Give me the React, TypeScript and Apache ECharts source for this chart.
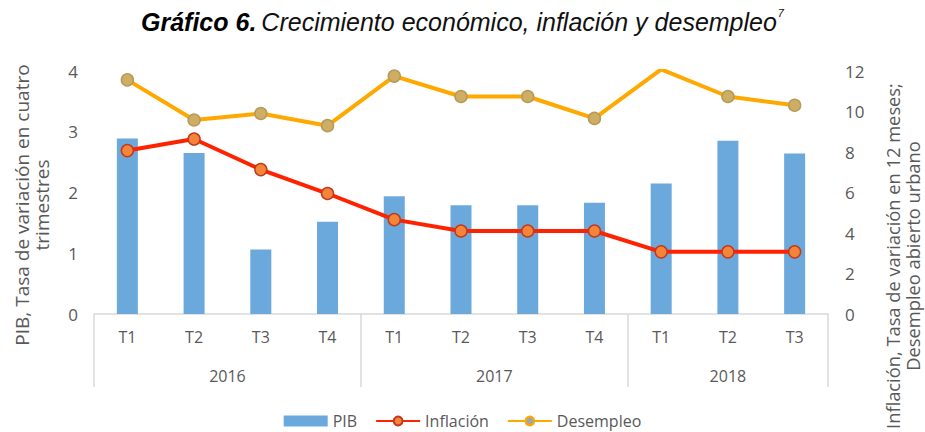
import React, { useEffect, useRef } from "react";
import * as echarts from "echarts";

const categories = ["T1", "T2", "T3", "T4", "T1", "T2", "T3", "T4", "T1", "T2", "T3"];
const yearLabels = ["2016", "2017", "2018"];
const yearSpans = [4, 4, 3];
const pib = [2.89, 2.65, 1.06, 1.52, 1.94, 1.79, 1.79, 1.83, 2.15, 2.85, 2.64];
const inflacion = [8.07, 8.64, 7.13, 5.95, 4.66, 4.1, 4.1, 4.1, 3.07, 3.07, 3.07];
const desempleo = [11.56, 9.58, 9.9, 9.3, 11.75, 10.74, 10.74, 9.66, 12.08, 10.74, 10.31];
const leftTicks = [0, 1, 2, 3, 4];
const rightTicks = [0, 2, 4, 6, 8, 10, 12];

const GRAY = "#595959";
const LINE_GRAY = "#d9d9d9";
const FONT = "'Open Sans', sans-serif";
const TITLE_FONT = "'Liberation Sans', Arial, sans-serif";

// half-step slots for the year (second-level) axis
const slotCount = categories.length * 2 + 1;
const yearSlots: string[] = new Array(slotCount).fill("");
const boundarySlots = new Set<number>([0]);
{
  let start = 0;
  yearLabels.forEach((y, k) => {
    yearSlots[start * 2 + yearSpans[k]] = y;
    start += yearSpans[k];
    boundarySlots.add(start * 2);
  });
}

export default function App() {
  const ref = useRef<HTMLDivElement>(null);
  useEffect(() => {
    if (!ref.current) return;
    const chart = echarts.init(ref.current, null, { renderer: "svg" });
    chart.setOption({
      animation: false,
      backgroundColor: "#ffffff",
      title: {
        left: "center",
        top: 2,
        text: "{b|Gráfico 6.} {i|Crecimiento económico, inflación y desempleo}{s|7}",
        textStyle: {
          rich: {
            b: { fontFamily: TITLE_FONT, fontStyle: "italic", fontWeight: "bold", fontSize: 25, color: "#000", lineHeight: 30 },
            i: { fontFamily: TITLE_FONT, fontStyle: "italic", fontWeight: "normal", fontSize: 25, color: "#111", lineHeight: 30 },
            s: { fontFamily: TITLE_FONT, fontStyle: "italic", fontWeight: "normal", fontSize: 11, color: "#111", verticalAlign: "top", lineHeight: 30, padding: [0, 0, 12, 1] },
          },
        },
      },
      grid: { left: 94, right: 97, top: 71, bottom: 118 },
      legend: {
        top: 408,
        left: "center",
        itemWidth: 44,
        itemHeight: 11,
        itemGap: 18,
        textStyle: { fontFamily: FONT, fontSize: 16, color: GRAY },
        data: [
          { name: "PIB", icon: "rect" },
          { name: "Inflación" },
          { name: "Desempleo", itemStyle: { color: "#A5A5A5", borderColor: "#FFA800", borderWidth: 2 } },
        ],
      },
      xAxis: [
        {
          type: "category",
          data: categories,
          position: "bottom",
          axisLine: { show: true, lineStyle: { color: LINE_GRAY, width: 1.5 } },
          axisTick: { show: false },
          axisLabel: { interval: 0, margin: 15, fontFamily: FONT, fontSize: 16, color: GRAY },
          splitLine: { show: false },
        },
        {
          type: "category",
          data: yearSlots,
          boundaryGap: false,
          position: "bottom",
          axisLine: { show: false },
          axisTick: {
            show: true,
            interval: (i: number) => boundarySlots.has(i),
            length: 73,
            lineStyle: { color: LINE_GRAY, width: 1.5 },
          },
          axisLabel: { interval: 0, margin: 54, fontFamily: FONT, fontSize: 16, color: GRAY },
          splitLine: { show: false },
        },
      ],
      yAxis: [
        {
          type: "value",
          min: leftTicks[0],
          max: leftTicks[leftTicks.length - 1],
          interval: leftTicks[1] - leftTicks[0],
          axisLine: { show: false },
          axisTick: { show: false },
          splitLine: { show: false },
          axisLabel: { margin: 16, fontFamily: FONT, fontSize: 17, color: GRAY },
        },
        {
          type: "value",
          min: rightTicks[0],
          max: rightTicks[rightTicks.length - 1],
          interval: rightTicks[1] - rightTicks[0],
          axisLine: { show: false },
          axisTick: { show: false },
          splitLine: { show: false },
          axisLabel: { margin: 17, fontFamily: FONT, fontSize: 17, color: GRAY },
        },
      ],
      graphic: [
        {
          type: "text",
          x: 32,
          y: 205,
          rotation: Math.PI / 2,
          style: {
            text: "PIB, Tasa de variación en cuatro\ntrimestres",
            fontFamily: FONT,
            fontSize: 19,
            lineHeight: 20,
            fill: GRAY,
            align: "center",
            verticalAlign: "middle",
          },
        },
        {
          type: "text",
          x: 902,
          y: 256,
          rotation: Math.PI / 2,
          style: {
            text: "Inflación, Tasa de variación en 12 meses;\nDesempleo abierto urbano",
            fontFamily: FONT,
            fontSize: 18.3,
            lineHeight: 20,
            fill: GRAY,
            align: "center",
            verticalAlign: "middle",
          },
        },
      ],
      series: [
        {
          name: "PIB",
          type: "bar",
          data: pib,
          xAxisIndex: 0,
          yAxisIndex: 0,
          barWidth: 21,
          itemStyle: { color: "#6BA9DC" },
        },
        {
          name: "Inflación",
          type: "line",
          data: inflacion,
          xAxisIndex: 0,
          yAxisIndex: 1,
          symbol: "circle",
          symbolSize: 12,
          lineStyle: { color: "#FF2200", width: 4 },
          itemStyle: { color: "#F4843A", borderColor: "#C23A1C", borderWidth: 1.5 },
        },
        {
          name: "Desempleo",
          type: "line",
          data: desempleo,
          xAxisIndex: 0,
          yAxisIndex: 1,
          symbol: "circle",
          symbolSize: 12,
          lineStyle: { color: "#FFA800", width: 4 },
          itemStyle: { color: "#CDAE63", borderColor: "#B79A5A", borderWidth: 1.5 },
        },
      ],
    });
    return () => chart.dispose();
  }, []);
  return <div ref={ref} style={{ width: 925, height: 432, position: "absolute", left: 0, top: 0 }} />;
}
